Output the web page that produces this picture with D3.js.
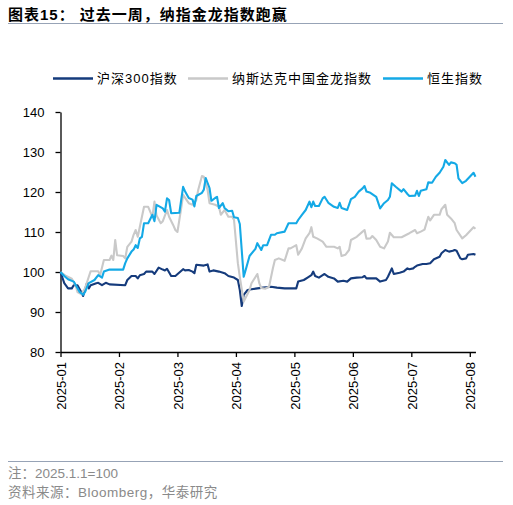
<!DOCTYPE html>
<html>
<head>
<meta charset="utf-8">
<script src="https://cdn.jsdelivr.net/npm/d3@7"></script>
<style>
  body { margin: 0; background: #fff; }
  svg { display: block; }
  .cjk { font-family: 'Liberation Sans', 'Noto Sans CJK SC', sans-serif; }
  .axis text { font-family: 'Liberation Sans', Arial, sans-serif; font-size: 13px; fill: #000; }
  .axis path, .axis line { stroke: #000; stroke-width: 1.3; }
</style>
</head>
<body>
<svg id="chart" width="513" height="505"></svg>
<script>
// Series names and colours
const seriesNames = ['沪深300指数', '纳斯达克中国金龙指数', '恒生指数'];
const seriesColors = ['#153b7c', '#c9c9c9', '#14a9e6'];

const yTicks = [80, 90, 100, 110, 120, 130, 140];
const xTickLabels = ['2025-01', '2025-02', '2025-03', '2025-04', '2025-05', '2025-06', '2025-07', '2025-08'];

// CSI 300 (2025.1.1 = 100)
const csiDates = ['01-01','01-03','01-05','01-07','01-08','01-10','01-12','01-13','01-15','01-16','01-17','01-20','01-21','01-23','01-25','01-27',
  '02-04','02-05','02-07','02-09','02-10','02-11','02-13','02-14','02-17','02-18','02-20','02-22','02-23','02-24','02-26','02-28',
  '03-04','03-05','03-07','03-09','03-10','03-11','03-15','03-17','03-18','03-20','03-23','03-26','03-28','03-31',
  '04-02','04-03','04-04','04-05','04-07','04-09','04-12','04-15','04-19','04-22','04-26',
  '05-02','05-03','05-06','05-08','05-10','05-11','05-12','05-14','05-16','05-17','05-19','05-22','05-24','05-27','05-29','05-31',
  '06-03','06-06','06-07','06-08','06-11','06-13','06-15','06-18','06-19','06-21','06-22','06-25','06-27','06-29','06-30',
  '07-02','07-03','07-04','07-07','07-09','07-11','07-13','07-16','07-17','07-19','07-21','07-23','07-24','07-25','07-27','07-28','07-30','07-31',
  '08-03','08-04'];
const csiValues = [100, 97.2, 95.9, 95.9, 96.7, 96.7, 95, 94, 97.2, 95.9, 96.7, 97.2, 97.3, 96.7, 97.3, 96.9,
  96.7, 98, 99, 99, 98.4, 99.2, 99.5, 100.1, 100.1, 99.5, 101.1, 100.6, 100.4, 100.8, 99, 99,
  100.7, 100.4, 100.5, 100.1, 99.7, 101.8, 101.6, 101.9, 100.1, 100.4, 100.1, 99.7, 99, 98.6,
  98, 95.5, 91.5, 94.3, 95.5, 95.7, 95.9, 96.1, 96.3, 96.1, 95.9,
  95.9, 97.6, 98, 98.6, 99.2, 100.1, 99, 98.6, 99.2, 99.5, 98.8, 98.4, 97.6, 97.8, 97.6, 98.4,
  98.6, 98.7, 99, 98.4, 98.4, 98.4, 97.6, 98, 98.8, 100.9, 99.5, 99.8, 100.1, 100.9, 100.7,
  100.9, 101.3, 101.6, 102, 102, 102.2, 103.2, 103.8, 104.7, 105.5, 105.1, 105.3, 105.5, 105.3, 103.4, 103.2, 103.4, 104.3,
  104.5, 104.3];

// Nasdaq Golden Dragon China index
const ndqDates = ['01-01','01-04','01-07','01-09','01-10','01-12','01-14','01-16','01-17','01-21','01-22','01-24','01-27','01-28','01-29','01-30','01-31',
  '02-03','02-04','02-05','02-07','02-08','02-09','02-10','02-12','02-13','02-15','02-17','02-18','02-19','02-21','02-22','02-24','02-25','02-27','02-28',
  '03-01','03-02','03-03','03-04','03-07','03-09','03-11','03-12','03-14','03-15','03-17','03-18','03-21','03-23','03-24','03-26','03-28','03-30','03-31',
  '04-02','04-03','04-05','04-08','04-09','04-12','04-13','04-14','04-16','04-18','04-20','04-21','04-23','04-26','04-28','04-29',
  '05-02','05-03','05-05','05-07','05-09','05-10','05-11','05-13','05-16','05-18','05-22','05-24','05-25','05-26','05-28','05-30','05-31',
  '06-03','06-06','06-07','06-08','06-10','06-11','06-13','06-15','06-17','06-19','06-20','06-22','06-26','06-28','06-30',
  '07-03','07-04','07-06','07-08','07-10','07-11','07-13','07-16','07-17','07-19','07-20','07-22','07-24','07-25','07-28','07-30','07-31',
  '08-03','08-04'];
const ndqValues = [100, 99, 98.3, 96.7, 95, 94.5, 95.9, 98.8, 100.2, 100.2, 99.2, 103, 103, 104.1, 103, 108, 104.2,
  104, 103.4, 106.3, 107.6, 109.3, 110.5, 108.8, 113.8, 116.3, 116.3, 113.8, 117.6, 114.1, 112.2, 112.7, 115.5, 113.8, 111.7, 110.5,
  110, 113, 116, 119.3, 117.2, 116.8, 118, 120.5, 124, 123.8, 120.5, 117.2, 116.8, 116.3, 114.3, 115.5, 113.8, 113.8, 113,
  102.2, 98.8, 92.6, 95.5, 97.2, 99.5, 97.2, 96, 95.8, 96.3, 101, 103, 103.4, 102.8, 105.9, 105.9,
  106.7, 104.3, 105.9, 108.4, 109.7, 111.2, 108.8, 108.4, 107.6, 106.3, 106.3, 105.9, 106.3, 104, 104.3, 105.5, 108,
  108.8, 110.1, 110.5, 108.3, 108.4, 109, 108, 106.3, 105.9, 107.6, 109.8, 108.7, 108.7, 109.2, 109.7,
  110.5, 109.7, 110.1, 110.6, 113.8, 112.9, 114.3, 114.3, 115.7, 116.8, 114.3, 113.4, 112.2, 110.5, 108.4, 109.2, 109.7,
  111.2, 110.8];

// Hang Seng index
const hsiDates = ['01-01','01-03','01-05','01-08','01-11','01-13','01-14','01-16','01-19','01-21','01-23','01-24','01-27',
  '02-03','02-04','02-05','02-07','02-08','02-09','02-10','02-11','02-12','02-13','02-15','02-17','02-18','02-19','02-22','02-23','02-24','02-25','02-26',
  '03-02','03-04','03-05','03-07','03-09','03-10','03-11','03-14','03-15','03-16','03-18','03-19','03-21','03-22','03-23','03-25','03-26','03-28','03-30','03-31',
  '04-02','04-03','04-05','04-06','04-08','04-11','04-12','04-14','04-15','04-17','04-19','04-21','04-22','04-26','04-28',
  '05-02','05-03','05-05','05-07','05-09','05-10','05-11','05-12','05-14','05-16','05-17','05-19','05-22','05-24','05-25','05-26','05-29','05-31',
  '06-02','06-04','06-06','06-07','06-08','06-10','06-13','06-15','06-17','06-19','06-20','06-21','06-23','06-26','06-27','06-29','06-30',
  '07-03','07-04','07-05','07-06','07-09','07-10','07-12','07-14','07-16','07-18','07-19','07-21','07-22','07-24','07-25','07-26','07-28','07-30',
  '08-01','08-03','08-04'];
const hsiValues = [100, 99, 98.2, 97.6, 95.1, 94.3, 95, 97.2, 98, 99.2, 98.6, 100.1, 100.6,
  100.6, 102.2, 103.4, 105.1, 105.6, 106.7, 106, 108.4, 108.8, 112.2, 112.2, 114.3, 112.7, 116.8, 115.9, 115.1, 118.4, 118, 114.7,
  114.8, 121.3, 120.2, 118.5, 118.1, 116.4, 119, 119.8, 120.6, 123.5, 121, 117.8, 118.5, 118.8, 116, 117.2, 116, 115.2, 115.3, 113.7,
  113.5, 112, 98.8, 100.5, 104, 105.8, 107.2, 105.5, 106.7, 106.7, 109.3, 109.3, 109.7, 110.1, 112.2,
  112.2, 113, 114.3, 115.5, 117.6, 116.2, 117.6, 116.5, 116.5, 118.4, 118.8, 117.3, 116.3, 116, 117.3, 116, 115.5, 118.2,
  118.8, 120.1, 120.9, 121.5, 120.1, 119.8, 118.8, 115.9, 117.2, 118, 118.8, 122.2, 121.3, 120.1, 120.7, 119.5, 119,
  119.1, 120.3, 119, 120.3, 120.7, 122.4, 122.3, 123.8, 124.8, 126.3, 128, 126.8, 127.4, 127.2, 126.8, 123.4, 122.2, 122.8,
  123.8, 124.8, 123.8];

const parse = d3.timeParse('%Y-%m-%d');
const series = [
  { name: seriesNames[0], color: seriesColors[0], dates: csiDates, values: csiValues },
  { name: seriesNames[1], color: seriesColors[1], dates: ndqDates, values: ndqValues },
  { name: seriesNames[2], color: seriesColors[2], dates: hsiDates, values: hsiValues }
].map(s => ({
  name: s.name,
  color: s.color,
  points: s.dates.map((d, i) => ({ date: parse('2025-' + d), value: s.values[i] }))
}));

const svg = d3.select('#chart');
const margin = { left: 60.5, top: 112 };
const plotHeight = 240;
const monthStep = 58.47;

// Title
svg.append('text')
  .attr('class', 'cjk')
  .attr('x', 8)
  .attr('y', 20)
  .attr('font-size', 15)
  .attr('font-weight', 'bold')
  .attr('letter-spacing', 1)
  .attr('fill', '#000')
  .text('图表15：  过去一周，纳指金龙指数跑赢');

svg.append('line')
  .attr('x1', 8).attr('x2', 503)
  .attr('y1', 23.5).attr('y2', 23.5)
  .attr('stroke', '#97a3b6').attr('stroke-width', 1.2);

// Scales: months evenly spaced, as in the source chart
const monthStarts = xTickLabels.map(t => parse(t + '-01'));
const lastDate = series[0].points[series[0].points.length - 1].date;
const lastPos = monthStarts.length - 1 + d3.timeDay.count(monthStarts[monthStarts.length - 1], lastDate) / 31;

const x = d3.scaleTime()
  .domain([...monthStarts, lastDate])
  .range([...monthStarts.map((d, i) => margin.left + i * monthStep), margin.left + lastPos * monthStep]);

const y = d3.scaleLinear()
  .domain([80, 140])
  .range([margin.top + plotHeight, margin.top]);

// Axes
svg.append('g')
  .attr('class', 'axis')
  .attr('transform', `translate(${margin.left},0)`)
  .call(d3.axisLeft(y).tickValues(yTicks).tickSize(5).tickPadding(11).tickSizeOuter(0));

const xAxis = svg.append('g')
  .attr('class', 'axis')
  .attr('transform', `translate(0,${margin.top + plotHeight})`)
  .call(d3.axisBottom(x).tickValues(monthStarts).tickFormat(d3.timeFormat('%Y-%m')).tickSize(5).tickSizeOuter(0));

xAxis.selectAll('text')
  .attr('transform', 'rotate(-90)')
  .attr('text-anchor', 'end')
  .attr('x', -10)
  .attr('y', 0)
  .attr('dy', '0.36em');

// Lines
const line = d3.line()
  .x(d => x(d.date))
  .y(d => y(d.value));

svg.append('g')
  .selectAll('path')
  .data(series)
  .join('path')
    .attr('d', d => line(d.points))
    .attr('fill', 'none')
    .attr('stroke', d => d.color)
    .attr('stroke-width', 2.1)
    .attr('stroke-linejoin', 'round');

// Legend
const legendPos = [53, 188, 383];
const legend = svg.append('g')
  .selectAll('g')
  .data(series)
  .join('g')
    .attr('transform', (d, i) => `translate(${legendPos[i]},78.5)`);

legend.append('line')
  .attr('x1', 0).attr('x2', 40)
  .attr('stroke', d => d.color)
  .attr('stroke-width', 2.5);

legend.append('text')
  .attr('class', 'cjk')
  .attr('x', 44)
  .attr('dy', '0.36em')
  .attr('font-size', 13)
  .attr('letter-spacing', 1)
  .attr('fill', '#000')
  .text(d => d.name);

// Footer
svg.append('line')
  .attr('x1', 8).attr('x2', 503)
  .attr('y1', 461.5).attr('y2', 461.5)
  .attr('stroke', '#97a3b6').attr('stroke-width', 1.2);

svg.append('text')
  .attr('class', 'cjk')
  .attr('x', 8).attr('y', 478)
  .attr('font-size', 13.5)
  .attr('fill', '#8a8a8a')
  .text('注：2025.1.1=100');

svg.append('text')
  .attr('class', 'cjk')
  .attr('x', 8).attr('y', 497)
  .attr('font-size', 13.5)
  .attr('letter-spacing', 0.5)
  .attr('fill', '#8a8a8a')
  .text('资料来源：Bloomberg，华泰研究');
</script>
</body>
</html>
